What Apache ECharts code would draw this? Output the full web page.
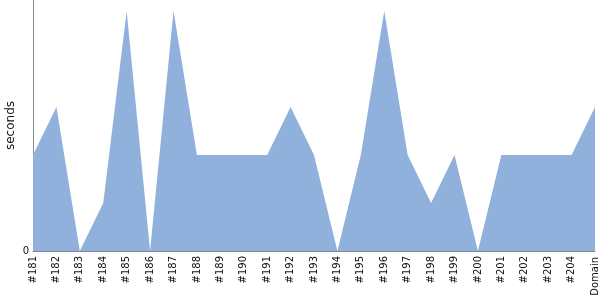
<!DOCTYPE html>
<html><head><meta charset="utf-8">
<script src="https://cdn.jsdelivr.net/npm/echarts@6/dist/echarts.min.js"></script>
<style>html,body{margin:0;padding:0;background:#fff}#c{width:600px;height:300px}</style>
</head><body><div id="c"></div>
<script>
const categories = ['#181','#182','#183','#184','#185','#186','#187','#188','#189','#190','#191','#192','#193','#194','#195','#196','#197','#198','#199','#200','#201','#202','#203','#204','#205'];
const seconds = [2,3,0,1,5,0,5,2,2,2,2,3,2,0,2,5,2,1,2,0,2,2,2,2,3];
const yTickLabels = ['0'];

const chart = echarts.init(document.getElementById('c'), null, {renderer:'canvas'});
chart.setOption({
  animation:false,
  grid:{left:33,right:5,top:0,bottom:49,containLabel:false,outerBoundsMode:'none'},
  xAxis:{
    type:'category', data:categories, boundaryGap:false,
    name:'Domain', nameLocation:'end', nameRotate:90, nameGap:0,
    nameTextStyle:{fontFamily:'DejaVu Sans',fontSize:10,color:'#111',align:'right',verticalAlign:'middle',padding:[0,6,0,0]},
    axisLine:{lineStyle:{color:'#888',width:1}},
    axisTick:{show:false},
    axisLabel:{rotate:90,fontFamily:'DejaVu Sans',fontSize:10,color:'#111',margin:5,
      interval:0, formatter:(v,i)=> i===categories.length-1 ? '' : v}
  },
  yAxis:{
    type:'value', min:0, max:5.23, interval:5.23,
    name:'seconds', nameLocation:'middle', nameGap:16, nameMoveOverlap:false,
    nameTextStyle:{fontFamily:'DejaVu Sans',fontSize:12,color:'#111'},
    axisLine:{show:true,lineStyle:{color:'#888',width:1}},
    axisTick:{show:false},
    splitLine:{show:false},
    axisLabel:{fontFamily:'DejaVu Sans',fontSize:10,color:'#111',margin:4,
      formatter:v=> v===0 ? yTickLabels[0] : ''}
  },
  series:[{
    type:'line', data:seconds, symbol:'none',
    lineStyle:{width:0},
    areaStyle:{color:'#8fb1db',opacity:1}
  }]
});
</script></body></html>
